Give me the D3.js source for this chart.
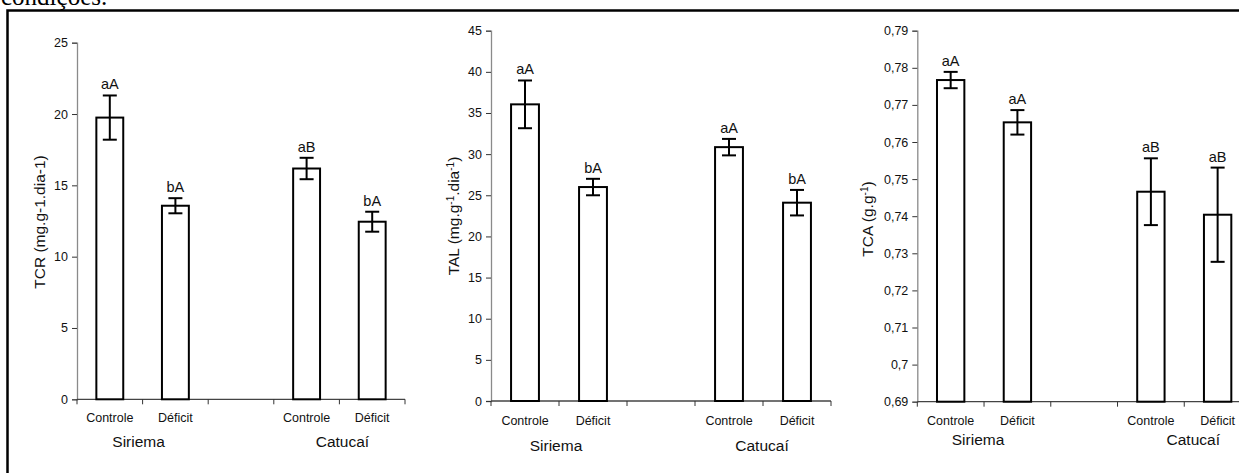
<!DOCTYPE html>
<html>
<head>
<meta charset="utf-8">
<script src="https://cdn.jsdelivr.net/npm/d3@7"></script>
<style>
  body { margin: 0; background: #fff; }
  svg { display: block; font-family: "Liberation Sans", Arial, sans-serif; }
</style>
</head>
<body>
<div id="chart"></div>
<script>
// categories
const groups = ["Siriema", "Catucaí"];
const treatments = ["Controle", "Déficit"];

// TCR (mg.g-1.dia-1)
const tcrMean = [19.75, 13.57, 16.18, 12.45];
const tcrErr = [1.55, 0.53, 0.75, 0.7];
const tcrLetters = ["aA", "bA", "aB", "bA"];

// TAL (mg.g-1.dia-1)
const talMean = [36.05, 26.0, 30.85, 24.1];
const talErr = [2.9, 1.0, 1.0, 1.55];
const talLetters = ["aA", "bA", "aA", "bA"];

// TCA (g.g-1)
const tcaMean = [0.7767, 0.7653, 0.7466, 0.7404];
const tcaErr = [0.0022, 0.0033, 0.009, 0.0127];
const tcaLetters = ["aA", "aA", "aB", "aB"];

const W = 1239, H = 473;
const svg = d3.select("#chart").append("svg").attr("width", W).attr("height", H);

// caption line from the page above, clipped at the top like the original
svg.append("text")
  .attr("x", 1).attr("y", 5)
  .style("font-family", "'Liberation Serif', 'Times New Roman', serif")
  .style("font-size", "25px")
  .text("condições.");

// frame
svg.append("rect")
  .attr("x", 7.5).attr("y", 10.5)
  .attr("width", W + 20).attr("height", H + 20)
  .attr("fill", "none").attr("stroke", "#000").attr("stroke-width", 2.5);

const bandKeys = ["S-C", "S-D", "gap", "C-C", "C-D"];
const barKeys = ["S-C", "S-D", "C-C", "C-D"];

function fmtComma(v) {
  return String(+v.toFixed(2)).replace(".", ",");
}

const panels = [
  { x0: 77, x1: 405, y0: 399.3, y1: 42.7, domain: [0, 25], ticks: d3.range(0, 26, 5),
    mean: tcrMean, err: tcrErr, letters: tcrLetters, fmt: d => String(d),
    title: [["TCR (mg.g-1.dia-1)", false]], titleX: 40, titleY: 222,
    catY: 418, grpY: 442, grpShift: [-4, 3] },
  { x0: 491, x1: 831, y0: 401, y1: 30.7, domain: [0, 45], ticks: d3.range(0, 46, 5),
    mean: talMean, err: talErr, letters: talLetters, fmt: d => String(d),
    title: [["TAL (mg.g", false], ["-1", true], [".dia", false], ["-1", true], [")", false]],
    titleX: 454, titleY: 216, catY: 421, grpY: 446, grpShift: [-3, -1] },
  { x0: 917.3, x1: 1251, y0: 401.7, y1: 30.7, domain: [0.69, 0.79],
    ticks: d3.range(0, 11).map(i => 0.69 + i * 0.01),
    mean: tcaMean, err: tcaErr, letters: tcaLetters, fmt: fmtComma,
    title: [["TCA (g.g", false], ["-1", true], [")", false]],
    titleX: 868, titleY: 219, catY: 421, grpY: 440, grpShift: [-6, 9] }
];

panels.forEach(p => {
  const x = d3.scaleBand().domain(bandKeys).range([p.x0, p.x1]);
  const y = d3.scaleLinear().domain(p.domain).range([p.y0, p.y1]);
  const g = svg.append("g");
  const bw = x.bandwidth() * 0.41;

  // y axis
  const ya = g.append("g").attr("transform", `translate(${p.x0},0)`)
    .call(d3.axisLeft(y).tickValues(p.ticks).tickFormat(p.fmt).tickSize(5).tickPadding(4));
  ya.select(".domain").attr("stroke", "#8a8a8a").attr("stroke-width", 1.3);
  ya.selectAll(".tick line").attr("stroke", "#333");
  ya.selectAll(".tick text").style("font-size", "12.5px").attr("fill", "#111")
    .style("font-family", "'Liberation Sans', Arial, sans-serif");

  // x axis with ticks at category boundaries
  const baseY = y(p.domain[0]);
  g.append("line").attr("x1", p.x0).attr("x2", p.x1).attr("y1", baseY).attr("y2", baseY)
    .attr("stroke", "#444").attr("stroke-width", 1.3);
  const bounds = bandKeys.map(k => x(k)).concat([p.x1]);
  g.selectAll(".xt").data(bounds).join("line")
    .attr("x1", d => d).attr("x2", d => d).attr("y1", baseY).attr("y2", baseY + 5)
    .attr("stroke", "#333").attr("stroke-width", 1);

  // bars
  const cx = k => x(k) + x.bandwidth() / 2;
  g.selectAll(".bar").data(barKeys).join("rect")
    .attr("x", (k) => cx(k) - bw / 2)
    .attr("width", bw)
    .attr("y", (k, i) => y(p.mean[i]))
    .attr("height", (k, i) => baseY - y(p.mean[i]))
    .attr("fill", "#fff").attr("stroke", "#000").attr("stroke-width", 2);

  // error bars
  const cap = 7;
  barKeys.forEach((k, i) => {
    const hi = y(p.mean[i] + p.err[i]), lo = y(p.mean[i] - p.err[i]);
    const c = cx(k);
    g.append("line").attr("x1", c).attr("x2", c).attr("y1", hi).attr("y2", lo)
      .attr("stroke", "#000").attr("stroke-width", 2);
    [hi, lo].forEach(v => g.append("line").attr("x1", c - cap).attr("x2", c + cap)
      .attr("y1", v).attr("y2", v).attr("stroke", "#000").attr("stroke-width", 2));
    g.append("text").attr("x", c).attr("y", hi - 6).attr("text-anchor", "middle")
      .style("font-size", "14.5px").attr("fill", "#111").text(p.letters[i]);
  });

  // category labels
  const catKeys = [["S-C", treatments[0]], ["S-D", treatments[1]], ["C-C", treatments[0]], ["C-D", treatments[1]]];
  g.selectAll(".cat").data(catKeys).join("text")
    .attr("x", d => cx(d[0])).attr("y", p.catY).attr("dy", "0.35em")
    .attr("text-anchor", "middle").style("font-size", "12.5px").attr("fill", "#111")
    .text(d => d[1]);

  // group labels
  [["S-C", "S-D"], ["C-C", "C-D"]].forEach((pair, gi) => {
    g.append("text").attr("x", (cx(pair[0]) + cx(pair[1])) / 2 + p.grpShift[gi]).attr("y", p.grpY).attr("dy", "0.35em")
      .attr("text-anchor", "middle").style("font-size", "15.5px").attr("fill", "#111")
      .text(groups[gi]);
  });

  // y title
  const t = g.append("text")
    .attr("transform", `translate(${p.titleX},${p.titleY}) rotate(-90)`)
    .attr("text-anchor", "middle").attr("dy", "0.35em")
    .style("font-size", "15.5px").attr("fill", "#111");
  p.title.forEach(([s, sup]) => {
    t.append("tspan")
      .attr("baseline-shift", sup ? "super" : null)
      .style("font-size", sup ? "10px" : null)
      .text(s);
  });
});
</script>
</body>
</html>
